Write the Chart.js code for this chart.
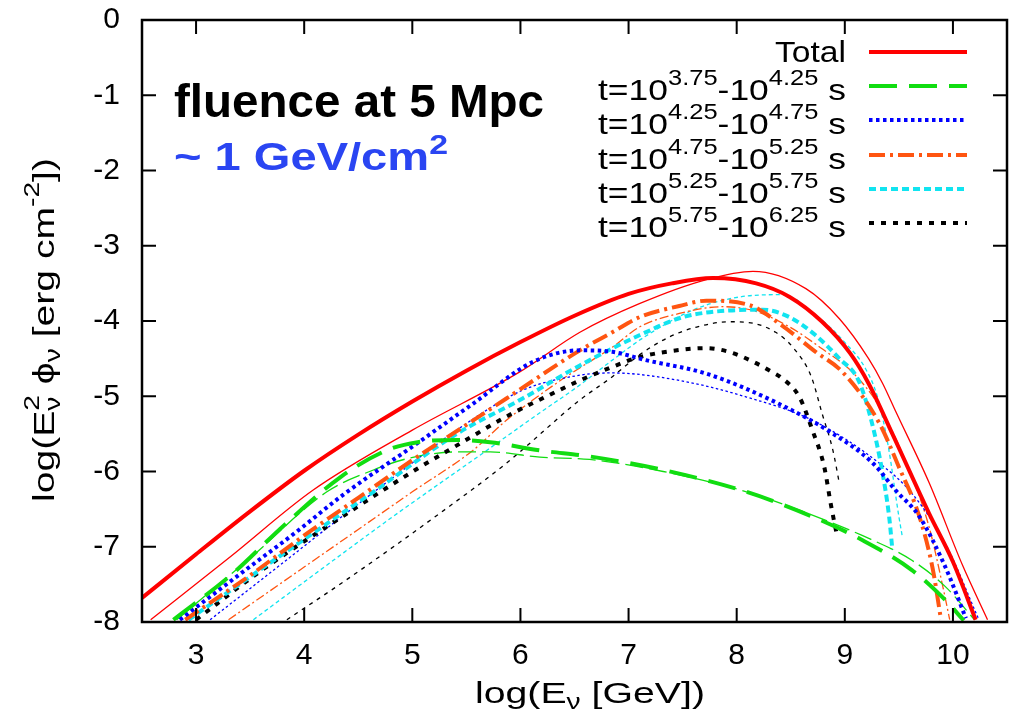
<!DOCTYPE html>
<html>
<head>
<meta charset="utf-8">
<script src="https://cdn.jsdelivr.net/npm/chart.js@4.4.1/dist/chart.umd.min.js"></script>
<style>
  html, body { margin: 0; padding: 0; background: #fff; }
  #wrap { width: 1011px; height: 714px; }
</style>
</head>
<body>
<div id="wrap"><canvas id="c" width="1011" height="714"></canvas></div>
<script>
// axis ticks
const xTicks = [3, 4, 5, 6, 7, 8, 9, 10];
const yTicks = [-8, -7, -6, -5, -4, -3, -2, -1, 0];

// thick curves (legend entries)
const totalX = [2.5, 3.0, 3.5, 4.0, 4.5, 5.0, 5.5, 6.0, 6.5, 7.0, 7.4, 7.78, 8.18, 8.49, 8.79, 9.05, 9.22, 9.44, 9.78, 10.0, 10.21];
const totalY = [-7.68, -7.1, -6.53, -5.99, -5.51, -5.07, -4.66, -4.28, -3.93, -3.64, -3.5, -3.43, -3.5, -3.68, -4.01, -4.43, -4.83, -5.5, -6.56, -7.2, -7.97];
const t1X = [2.79, 3.32, 3.81, 4.33, 4.76, 5.05, 5.41, 5.72, 6.18, 6.64, 7.32, 8.09, 8.7, 9.16, 9.62, 9.93, 10.1];
const t1Y = [-7.97, -7.38, -6.72, -6.08, -5.72, -5.61, -5.58, -5.61, -5.72, -5.8, -5.98, -6.27, -6.6, -6.91, -7.31, -7.71, -7.98];
const t2X = [2.85, 3.4, 3.93, 4.36, 5.04, 5.56, 6.12, 6.55, 6.85, 7.16, 7.72, 8.39, 8.86, 9.26, 9.47, 9.69, 9.93, 10.12];
const t2Y = [-7.97, -7.37, -6.8, -6.31, -5.63, -5.1, -4.54, -4.39, -4.41, -4.52, -4.7, -5.1, -5.47, -5.89, -6.25, -6.6, -7.27, -7.95];
const t3X = [2.9, 3.5, 4.0, 4.5, 5.0, 5.5, 5.87, 6.55, 6.85, 7.1, 7.47, 7.72, 8.12, 8.42, 8.73, 8.98, 9.32, 9.5, 9.69, 9.81, 9.89];
const t3Y = [-7.97, -7.38, -6.85, -6.35, -5.85, -5.38, -5.03, -4.39, -4.15, -3.95, -3.8, -3.73, -3.79, -4.06, -4.41, -4.68, -5.36, -5.94, -6.6, -7.27, -7.97];
const t4X = [2.93, 3.5, 4.0, 4.64, 5.41, 6.02, 6.55, 7.1, 7.5, 7.93, 8.24, 8.49, 8.73, 8.95, 9.13, 9.25, 9.34, 9.41, 9.44];
const t4Y = [-7.97, -7.4, -6.9, -6.27, -5.5, -5.03, -4.59, -4.19, -3.95, -3.86, -3.85, -3.95, -4.19, -4.5, -4.8, -5.35, -5.95, -6.6, -7.04];
const t5X = [3.0, 3.59, 4.49, 5.05, 5.44, 5.87, 6.33, 6.55, 6.85, 7.1, 7.5, 7.72, 7.93, 8.15, 8.33, 8.41, 8.58, 8.7, 8.81, 8.87, 8.93];
const t5Y = [-7.97, -7.33, -6.47, -5.96, -5.63, -5.27, -4.94, -4.79, -4.61, -4.48, -4.38, -4.36, -4.41, -4.54, -4.68, -4.75, -5.01, -5.45, -5.94, -6.43, -6.87];

// thin curves (no legend entry)
const totalThinX = [2.58, 3.32, 4.08, 5.0, 5.99, 6.55, 7.1, 7.72, 8.15, 8.64, 8.95, 9.22, 9.35, 9.47, 9.78, 10.09, 10.32];
const totalThinY = [-7.97, -7.13, -6.25, -5.45, -4.68, -4.15, -3.77, -3.45, -3.34, -3.57, -3.97, -4.5, -4.83, -5.2, -6.15, -7.25, -7.97];
const t1ThinX = [2.82, 3.5, 4.21, 4.64, 4.95, 5.41, 5.72, 6.18, 6.64, 7.32, 8.09, 8.7, 9.16, 9.62, 9.93, 10.2];
const t1ThinY = [-7.97, -7.15, -6.27, -5.98, -5.83, -5.74, -5.74, -5.81, -5.84, -6.0, -6.27, -6.58, -6.85, -7.18, -7.53, -7.97];
const t2ThinX = [3.13, 3.78, 4.33, 4.95, 5.41, 6.02, 6.55, 6.85, 7.47, 8.09, 8.7, 9.32, 9.62, 9.93, 10.24];
const t2ThinY = [-7.97, -7.24, -6.62, -5.94, -5.45, -4.92, -4.72, -4.69, -4.79, -5.01, -5.32, -5.89, -6.29, -6.96, -7.97];
const t3ThinX = [3.3, 4.0, 4.5, 5.0, 5.56, 5.87, 6.33, 6.64, 6.85, 7.1, 7.47, 7.87, 8.15, 8.49, 8.79, 9.07, 9.32, 9.62, 9.78, 9.92, 9.97];
const t3ThinY = [-7.97, -7.27, -6.77, -6.27, -5.72, -5.32, -4.83, -4.54, -4.35, -4.08, -3.9, -3.81, -3.86, -4.08, -4.37, -4.68, -5.14, -6.07, -6.74, -7.62, -7.97];
const t4ThinX = [3.53, 4.27, 4.82, 5.56, 6.18, 6.55, 6.85, 7.16, 7.62, 8.03, 8.42, 8.73, 9.01, 9.19, 9.3, 9.4, 9.5, 9.53];
const t4ThinY = [-7.97, -7.18, -6.6, -5.85, -5.22, -4.85, -4.52, -4.2, -3.84, -3.68, -3.65, -3.92, -4.3, -4.63, -5.0, -5.65, -6.6, -6.85];
const t5ThinX = [3.84, 4.39, 5.25, 5.87, 6.55, 6.85, 7.1, 7.38, 7.63, 7.93, 8.15, 8.36, 8.52, 8.69, 8.79, 8.89, 8.95];
const t5ThinY = [-7.97, -7.44, -6.56, -5.89, -5.05, -4.74, -4.45, -4.21, -4.08, -4.01, -4.03, -4.15, -4.35, -4.74, -5.23, -5.72, -6.16];

// legend labels: [normal, sup, normal, sup, normal]
const legendLabels = [
  ['Total'],
  ['t=10', '3.75', '-10', '4.25', ' s'],
  ['t=10', '4.25', '-10', '4.75', ' s'],
  ['t=10', '4.75', '-10', '5.25', ' s'],
  ['t=10', '5.25', '-10', '5.75', ' s'],
  ['t=10', '5.75', '-10', '6.25', ' s']
];

const FONT = "'Liberation Sans', Arial, Helvetica, sans-serif";
const colors = ['#ff0000', '#11dd11', '#0000ff', '#ff5511', '#11e4f0', '#000000'];
const thickDash = [[], [28, 12], [3.5, 3.5], [16, 5, 3, 5], [7, 4], [5, 7]];
const thinDash = [[], [18, 6], [2.5, 2.5], [9, 3, 2, 3], [4, 3], [4, 5]];

function pts(xs, ys) {
  return xs.map((x, i) => ({ x: x, y: ys[i] }));
}

const thick = [pts(totalX, totalY), pts(t1X, t1Y), pts(t2X, t2Y), pts(t3X, t3Y), pts(t4X, t4Y), pts(t5X, t5Y)];
const thin = [pts(totalThinX, totalThinY), pts(t1ThinX, t1ThinY), pts(t2ThinX, t2ThinY),
              pts(t3ThinX, t3ThinY), pts(t4ThinX, t4ThinY), pts(t5ThinX, t5ThinY)];

const datasets = [];
thick.forEach((d, i) => {
  datasets.push({
    data: d, borderColor: colors[i], borderWidth: 4,
    borderDash: thickDash[i], showLine: true, pointRadius: 0, fill: false,
    cubicInterpolationMode: 'monotone'
  });
});
thin.forEach((d, i) => {
  datasets.push({
    data: d, borderColor: colors[i], borderWidth: 1.3,
    borderDash: thinDash[i], showLine: true, pointRadius: 0, fill: false,
    cubicInterpolationMode: 'monotone'
  });
});

// text with sub/superscripts, stretched to a given width
function drawRich(ctx, segs, x, y, size, width, align) {
  const items = segs.map(s => {
    const sz = s.small ? size * 0.72 : size;
    ctx.font = (s.bold ? 'bold ' : '') + sz + 'px ' + FONT;
    return { s: s, sz: sz, w: ctx.measureText(s.t).width };
  });
  let nat = 0;
  items.forEach(it => { if (!it.s.noAdv) nat += it.w; });
  const k = width ? width / nat : 1;
  let x0 = x;
  if (align === 'right') x0 = x - nat * k;
  if (align === 'center') x0 = x - nat * k / 2;
  ctx.save();
  ctx.translate(x0, y);
  ctx.scale(k, 1);
  ctx.textBaseline = 'alphabetic';
  ctx.textAlign = 'left';
  let cx = 0;
  items.forEach(it => {
    ctx.font = (it.s.bold ? 'bold ' : '') + it.sz + 'px ' + FONT;
    ctx.fillStyle = it.s.color || '#000';
    ctx.fillText(it.s.t, cx, it.s.dy || 0);
    if (!it.s.noAdv) cx += it.w;
  });
  ctx.restore();
}

const decor = {
  id: 'decor',
  afterDraw(chart) {
    const ctx = chart.ctx;
    const a = chart.chartArea;
    const xs = chart.scales.x, ys = chart.scales.y;
    ctx.save();
    ctx.strokeStyle = '#000';
    ctx.lineWidth = 2.5;
    ctx.strokeRect(a.left, a.top, a.right - a.left, a.bottom - a.top);
    ctx.lineWidth = 2;
    ctx.beginPath();
    xTicks.forEach(v => {
      const p = xs.getPixelForValue(v);
      ctx.moveTo(p, a.bottom); ctx.lineTo(p, a.bottom - 14);
      ctx.moveTo(p, a.top); ctx.lineTo(p, a.top + 14);
    });
    yTicks.forEach(v => {
      const p = ys.getPixelForValue(v);
      ctx.moveTo(a.left, p); ctx.lineTo(a.left + 14, p);
      ctx.moveTo(a.right, p); ctx.lineTo(a.right - 14, p);
    });
    ctx.stroke();

    // legend
    const rowY = [52, 86, 120, 155, 189, 223];
    legendLabels.forEach((lab, i) => {
      const segs = lab.map((t, j) => (j % 2 === 1 ? { t: t, small: true, dy: -15 } : { t: t }));
      const base = i === 0 ? rowY[i] + 10 : rowY[i] + 14;
      drawRich(ctx, segs, 846, base, 30, i === 0 ? 71 : 248, 'right');
      ctx.beginPath();
      ctx.strokeStyle = colors[i];
      ctx.lineWidth = 4;
      ctx.setLineDash(thickDash[i]);
      ctx.moveTo(869, rowY[i]); ctx.lineTo(967, rowY[i]);
      ctx.stroke();
    });
    ctx.setLineDash([]);

    // annotations
    drawRich(ctx, [{ t: 'fluence at 5 Mpc', bold: true }], 174, 117, 47, 370, 'left');
    drawRich(ctx, [{ t: '~ 1 GeV/cm', bold: true, color: '#2a45f2' },
                   { t: '2', bold: true, small: true, dy: -16, color: '#2a45f2' }], 174, 170, 39, 274, 'left');

    // axis titles
    drawRich(ctx, [{ t: 'log(E' }, { t: 'ν', small: true, dy: 6 }, { t: ' [GeV])' }], 475, 703, 30, 230, 'left');
    ctx.translate(54, 330);
    ctx.rotate(-Math.PI / 2);
    drawRich(ctx, [{ t: 'log(E' }, { t: 'ν', small: true, dy: 6, noAdv: true }, { t: '2', small: true, dy: -15 },
                   { t: ' ϕ' }, { t: 'ν', small: true, dy: 6 }, { t: ' [erg cm' }, { t: '-2', small: true, dy: -15 },
                   { t: '])' }], 0, 0, 30, 344, 'center');
    ctx.restore();
  }
};

new Chart(document.getElementById('c'), {
  type: 'scatter',
  data: { datasets: datasets },
  plugins: [decor],
  options: {
    responsive: false,
    devicePixelRatio: 1,
    animation: false,
    layout: { padding: { top: 20, right: 4, left: 0, bottom: 0 } },
    plugins: { legend: { display: false }, tooltip: { enabled: false } },
    scales: {
      x: {
        type: 'linear', min: 2.5, max: 10.5,
        afterBuildTicks: s => { s.ticks = xTicks.map(v => ({ value: v })); },
        afterFit: s => { s.height = 92; s.paddingLeft = 0; s.paddingRight = 0; },
        grid: { display: false, drawTicks: false },
        border: { display: false },
        ticks: { font: { family: FONT, size: 30 }, color: '#000', padding: 16, maxRotation: 0 }
      },
      y: {
        type: 'linear', min: -8, max: 0,
        afterBuildTicks: s => { s.ticks = yTicks.map(v => ({ value: v })); },
        afterFit: s => { s.width = 142; s.paddingTop = 0; s.paddingBottom = 0; },
        grid: { display: false, drawTicks: false },
        border: { display: false },
        ticks: { font: { family: FONT, size: 30 }, color: '#000', padding: 22 }
      }
    }
  }
});
</script>
</body>
</html>
